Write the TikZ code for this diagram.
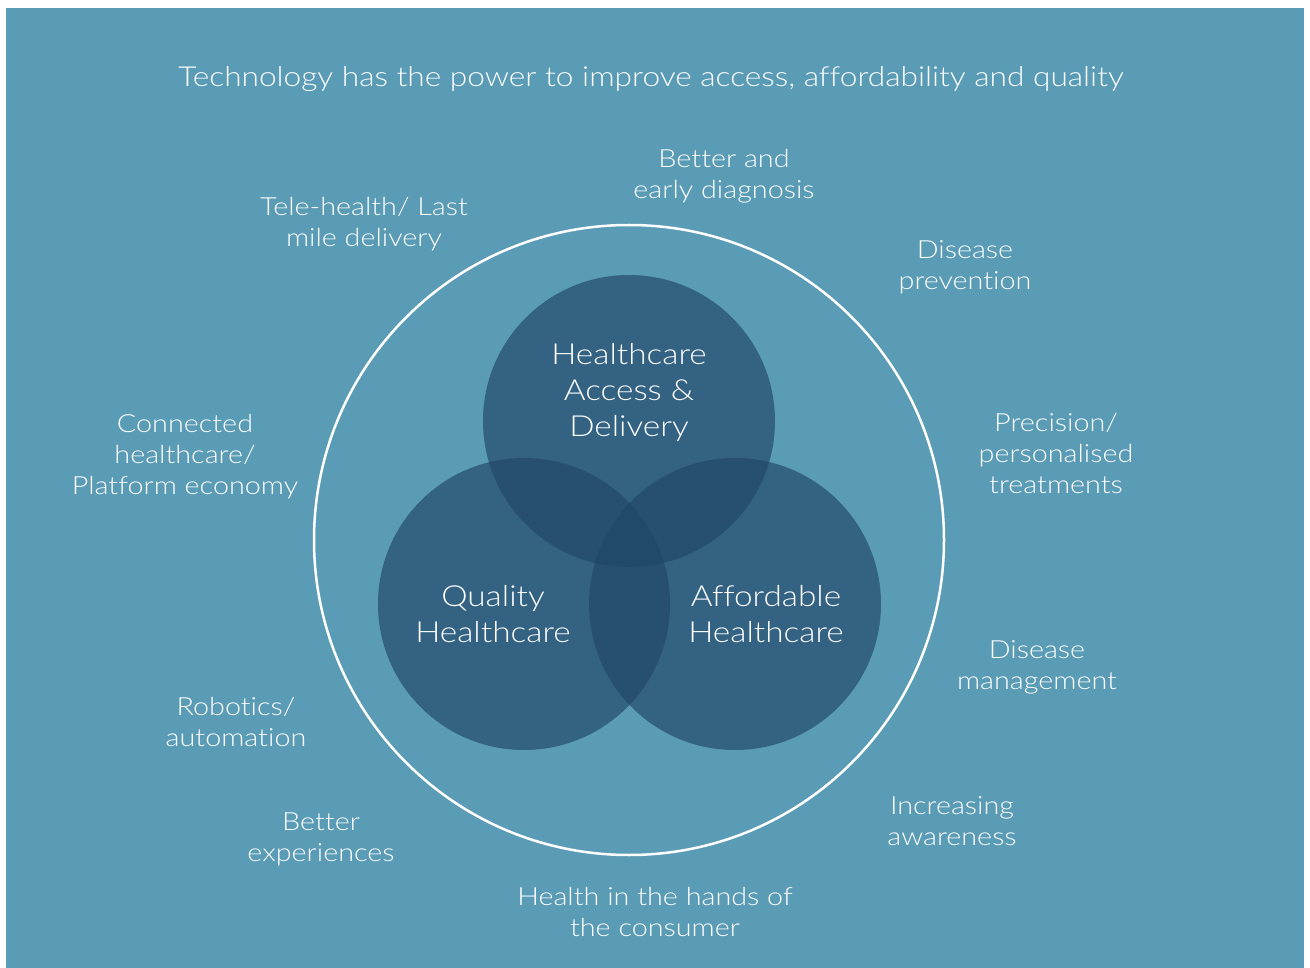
\documentclass[tikz,border=0pt]{standalone}
\usepackage{fontspec}
\setmainfont{Lato}[UprightFont=* Light,FakeStretch=1.15,Ligatures={NoCommon}]
\begin{document}
\definecolor{panel}{RGB}{90,155,181}
\definecolor{ring}{RGB}{32,71,106}
\begin{tikzpicture}[x=1pt,y=-1pt,
  label/.style={text=white,align=center,font=\fontsize{25}{31}\selectfont,inner sep=0pt},
  core/.style={text=white,align=center,font=\fontsize{29}{36}\selectfont,inner sep=0pt},
  venn/.style={circle,fill=ring,fill opacity=0.67,minimum size=292pt,inner sep=0pt}]
  \useasboundingbox (0,0) rectangle (1310,968);
  \fill[white] (0,0) rectangle (1310,968);
  \fill[panel] (6,8) rectangle (1304,968);
  % outer ring
  \node[circle,draw=white,line width=2.5pt,minimum size=630pt,inner sep=0pt] (outer) at (629,540) {};
  % three overlapping circles
  \node[venn] (access) at (629,421) {};
  \node[venn] (quality) at (524,604) {};
  \node[venn] (afford) at (735,604) {};
  \node[core] (taccess) at (629,393) {Healthcare\\Access \&\\Delivery};
  \node[core] (tquality) at (493,614) {Quality\\Healthcare};
  \node[core] (tafford) at (766,614) {Affordable\\Healthcare};
  % title and surrounding labels
  \node[label,font=\fontsize{27.5}{33}\selectfont] (title) at (651,79) {Technology has the power to improve access, affordability and quality};
  \node[label] (diag) at (724,176) {Better and\\early diagnosis};
  \node[label] (tele) at (364,224) {Tele-health/ Last\\mile delivery};
  \node[label] (prev) at (965,267) {Disease\\prevention};
  \node[label] (prec) at (1056,454) {Precision/\\personalised\\treatments};
  \node[label] (conn) at (185,457) {Connected\\healthcare/\\Platform economy};
  \node[label] (mgmt) at (1037,667) {Disease\\management};
  \node[label] (robo) at (236,722) {Robotics/\\automation};
  \node[label] (aware) at (952,821) {Increasing\\awareness};
  \node[label] (exper) at (321,839) {Better\\experiences};
  \node[label] (hands) at (655,912) {Health in the hands of\\the consumer};
\end{tikzpicture}
\end{document}
